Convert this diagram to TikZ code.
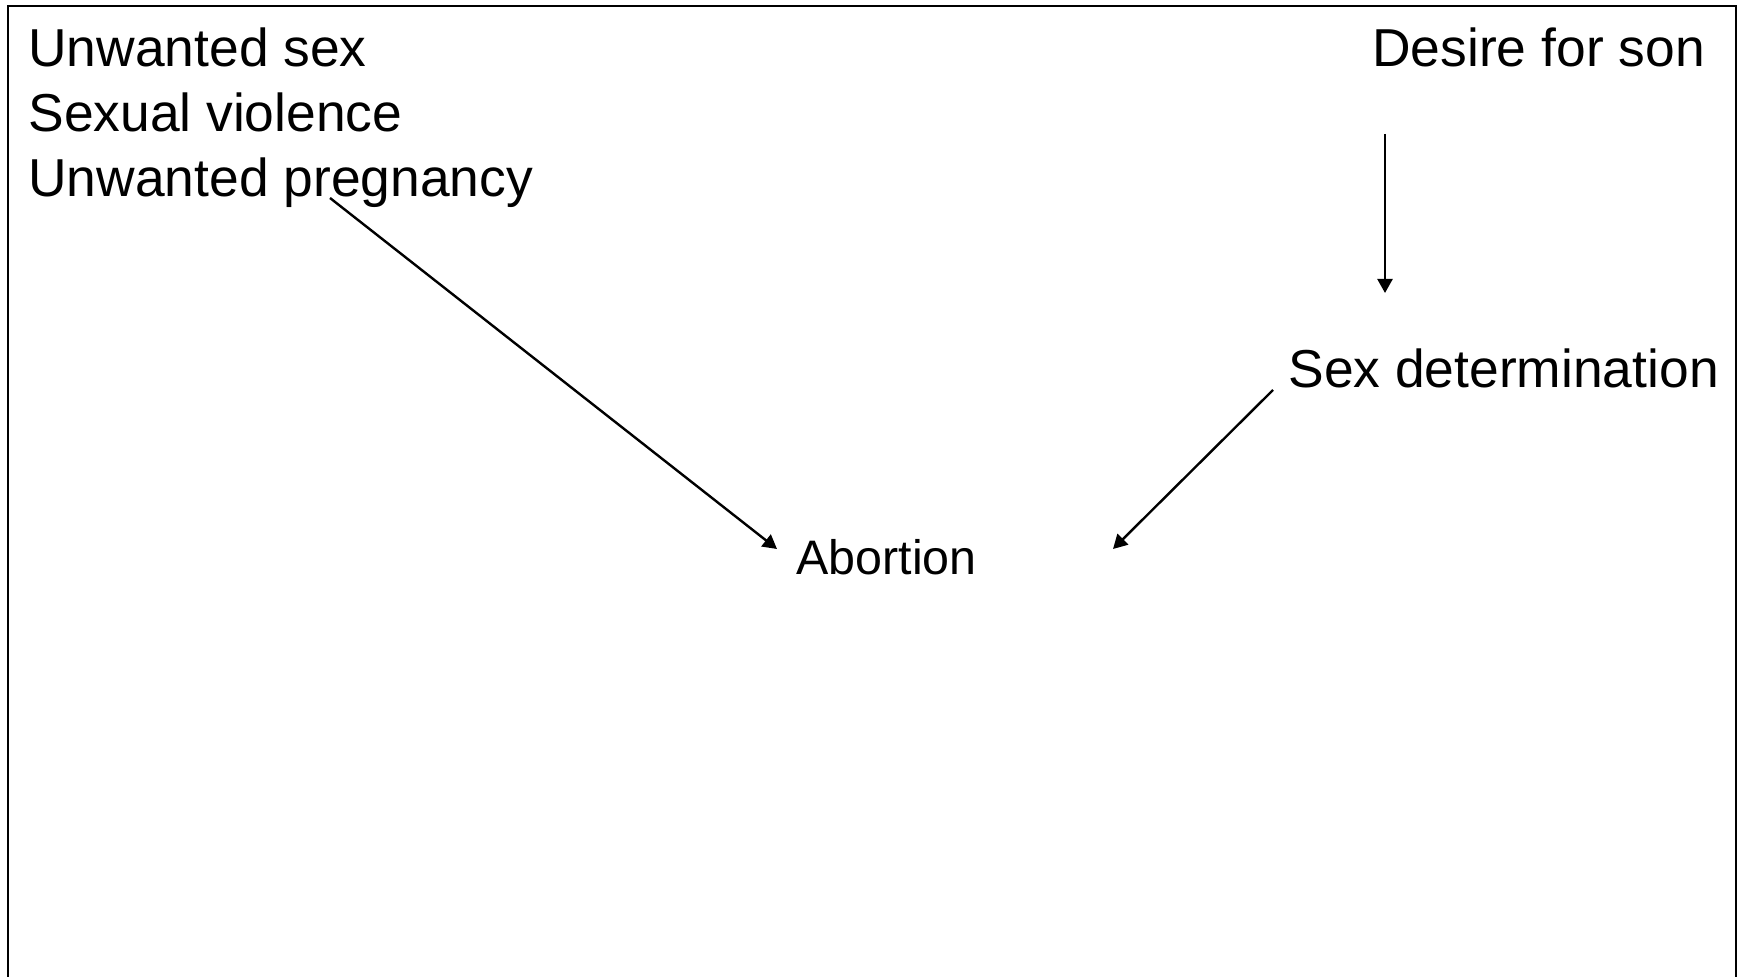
\documentclass[tikz,border=0pt]{standalone}
\usepackage{fontspec}
\setmainfont{Liberation Sans}
\usetikzlibrary{arrows.meta,calc}
\tikzset{
  lbl/.style={inner sep=0pt, anchor=base west, font=\fontsize{26.7pt}{30pt}\selectfont},
  small/.style={inner sep=0pt, anchor=base west, font=\fontsize{24.2pt}{28pt}\selectfont},
  conn/.style={line width=1.2pt, -{Triangle[length=7pt,width=7.5pt]}},
  frame/.style={line width=1pt}
}
\begin{document}
\begin{tikzpicture}[x=0.5pt,y=-0.5pt]
\useasboundingbox (0,0) rectangle (1745,977);
\draw[frame] (8,990) -- (8,6) -- (1736,6) -- (1736,990);
\node[lbl] (usex)   at (28,67)   {Unwanted sex};
\node[lbl] (sviol)  at (28,132)  {Sexual violence};
\node[lbl] (upreg)  at (28,197)  {Unwanted pregnancy};
\node[lbl] (desire) at (1372,67) {Desire for son};
\node[lbl] (sexdet) at (1288,388) {Sex determination};
\node[small] (abortion) at (796,575) {Abortion};
\coordinate (s1) at ($(upreg.base west)+(302,1)$);
\coordinate (t1) at ($(abortion.base west)+(-19,-26)$);
\coordinate (s2) at ($(desire.base west)+(13,67)$);
\coordinate (t2) at ($(desire.base west)+(13,226)$);
\coordinate (s3) at ($(sexdet.base west)+(-15,2)$);
\coordinate (t3) at ($(abortion.base west)+(317,-26)$);
\draw[conn] (s1) -- (t1);
\draw[conn] (s2) -- (t2);
\draw[conn] (s3) -- (t3);
\end{tikzpicture}
\end{document}
